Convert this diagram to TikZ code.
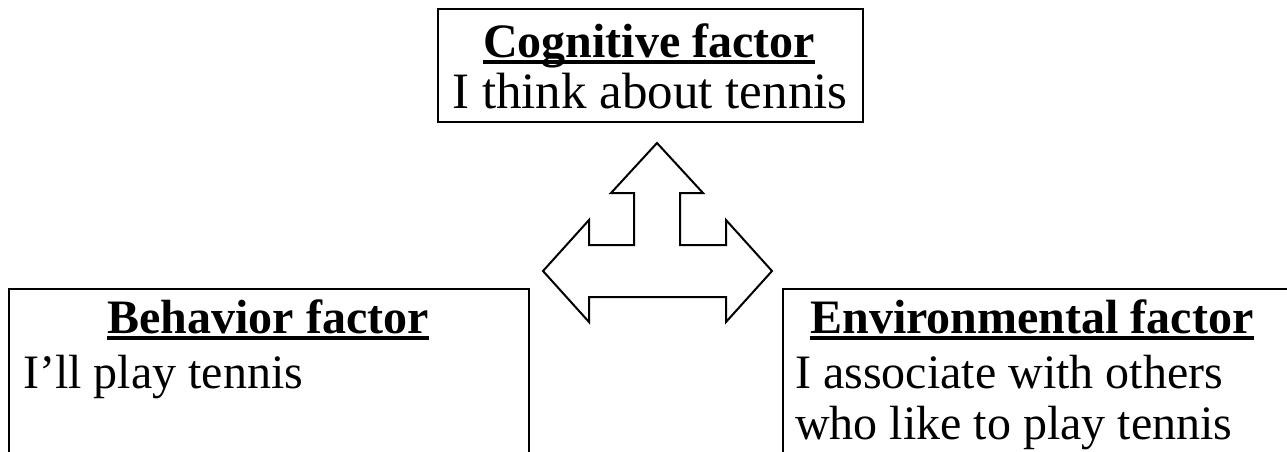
\documentclass[tikz,border=0pt]{standalone}
\usepackage{fontspec}
\setmainfont{Liberation Serif}
\newcommand\headul[1]{\setbox0\hbox{\bfseries #1}\rlap{\rule[-6.5pt]{\wd0}{3.5pt}}\box0}
\begin{document}
\begin{tikzpicture}[x=1pt,y=-1pt,
  box/.style={draw=black,line width=2.2pt,anchor=north west,inner sep=0pt},
  txt/.style={inner sep=0pt,font=\fontsize{48}{51}\selectfont},
  bigtxt/.style={inner sep=0pt,font=\fontsize{51}{54}\selectfont},
  arrowshape/.style={draw=black,line width=2pt,fill=white,line join=miter}]
\fill[white] (0,0) rectangle (1287,451);
\useasboundingbox (0,0) rectangle (1287,451);
\begin{scope}
\clip (0,0) rectangle (1287,451);
\node[box,minimum width=425pt,minimum height=113pt] (cog) at (437,8) {};
\node[box,minimum width=520pt,minimum height=200pt] (beh) at (8,288) {};
\node[box,minimum width=520pt,minimum height=200pt] (env) at (782,288) {};
\end{scope}
\node[txt,anchor=base] (coghead) at (649,57) {\headul{Cognitive factor}};
\node[bigtxt,anchor=base] (cogtext) at (650,108) {I think about tennis};
\node[txt,anchor=base] (behhead) at (268,333) {\headul{Behavior factor}};
\node[txt,anchor=base west] (behtext) at (23,388) {I’ll play tennis};
\node[txt,anchor=base] (envhead) at (1032,333) {\headul{Environmental factor}};
\node[txt,anchor=base west] (envtext1) at (795,388) {I associate with others};
\node[txt,anchor=base west] (envtext2) at (795,439) {who like to play tennis};
\draw[arrowshape] (657,143) -- (703,193) -- (680,193) -- (680,245) -- (726,245) -- (726,220)
  -- (772,271) -- (726,322) -- (726,297) -- (589,297) -- (589,322) -- (543,271)
  -- (589,220) -- (589,245) -- (634,245) -- (634,193) -- (611,193) -- cycle;
\end{tikzpicture}
\end{document}
